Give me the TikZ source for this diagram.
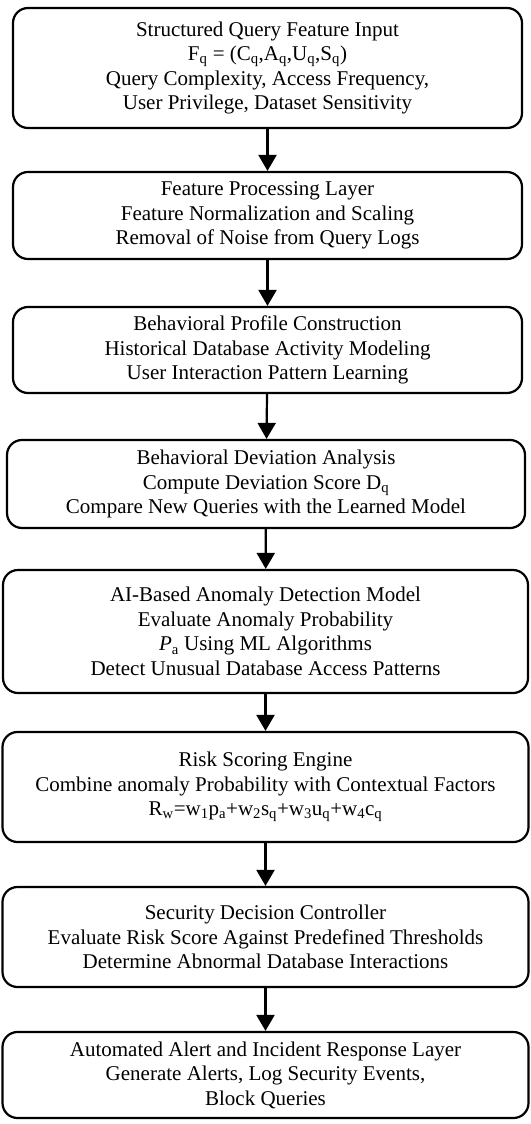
\documentclass[tikz,border=0pt]{standalone}
\usepackage{fontspec}
\setmainfont{Liberation Serif}
\usetikzlibrary{arrows.meta}
\begin{document}
\begin{tikzpicture}[x=1pt,y=-1pt,
  stage/.style={draw,line width=2.2pt,rounded corners=15pt,align=center,inner sep=2pt,
    font=\fontsize{21}{24.5}\selectfont},
  flow/.style={-{Triangle[width=18pt,length=16pt]},line width=2.2pt}]
  \useasboundingbox (0,0) rectangle (530,1124);
  \node[stage,minimum width=509pt,minimum height=120pt] (input) at (267.5,68)
    {Structured Query Feature Input\\
     F\textsubscript{q} = (C\textsubscript{q},A\textsubscript{q},U\textsubscript{q},S\textsubscript{q})\\
     Query Complexity, Access Frequency,\\
     User Privilege, Dataset Sensitivity};
  \node[stage,minimum width=509pt,minimum height=87pt] (proc) at (267.5,215.5)
    {Feature Processing Layer\\
     Feature Normalization and Scaling\\
     Removal of Noise from Query Logs};
  \node[stage,minimum width=509pt,minimum height=86pt] (profile) at (267.5,350)
    {Behavioral Profile Construction\\
     Historical Database Activity Modeling\\
     User Interaction Pattern Learning};
  \node[stage,minimum width=518pt,minimum height=88pt] (deviation) at (266,484)
    {Behavioral Deviation Analysis\\
     Compute Deviation Score D\textsubscript{q}\\
     Compare New Queries with the Learned Model};
  \node[stage,minimum width=525pt,minimum height=123pt] (anomaly) at (265.5,631.5)
    {AI-Based Anomaly Detection Model\\
     Evaluate Anomaly Probability\\
     \textit{P}\textsubscript{a} Using ML Algorithms\\
     Detect Unusual Database Access Patterns};
  \node[stage,minimum width=526pt,minimum height=110pt] (risk) at (265.5,787)
    {Risk Scoring Engine\\
     Combine anomaly Probability with Contextual Factors\\
     R\textsubscript{w}=w\textsubscript{1}p\textsubscript{a}+w\textsubscript{2}s\textsubscript{q}+w\textsubscript{3}u\textsubscript{q}+w\textsubscript{4}c\textsubscript{q}};
  \node[stage,minimum width=526pt,minimum height=100pt] (decision) at (265.5,937)
    {Security Decision Controller\\
     Evaluate Risk Score Against Predefined Thresholds\\
     Determine Abnormal Database Interactions};
  \node[stage,minimum width=526pt,minimum height=86pt] (alert) at (265.5,1075)
    {Automated Alert and Incident Response Layer\\
     Generate Alerts, Log Security Events,\\
     Block Queries};
  \draw[flow] (input) -- (proc);
  \draw[flow] (proc) -- (profile);
  \draw[flow] (profile) -- (deviation);
  \draw[flow] (deviation) -- (anomaly);
  \draw[flow] (anomaly) -- (risk);
  \draw[flow] (risk) -- (decision);
  \draw[flow] (decision) -- (alert);
\end{tikzpicture}
\end{document}
